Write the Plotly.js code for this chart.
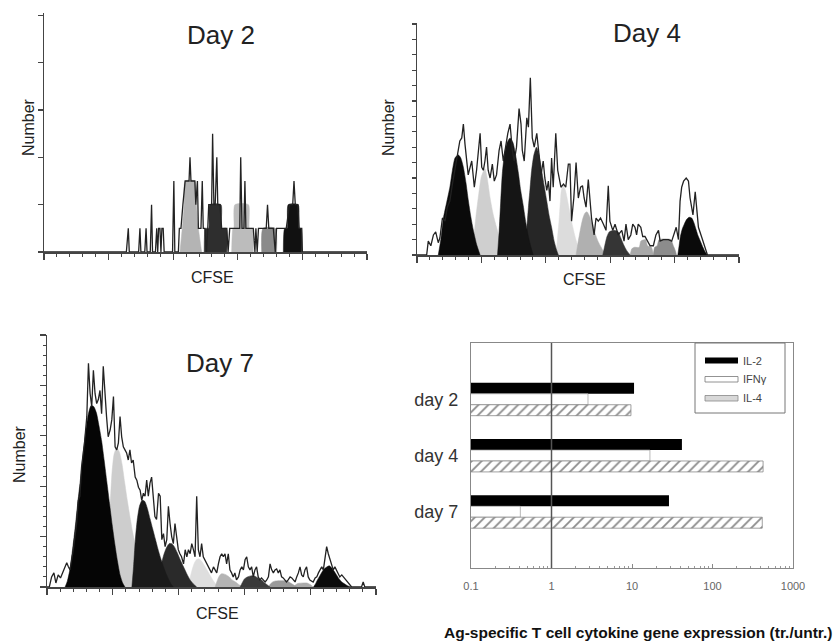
<!DOCTYPE html>
<html><head><meta charset="utf-8">
<script src="https://cdn.plot.ly/plotly-3.0.1.min.js"></script>
<style>html,body{margin:0;padding:0;background:#fff}#chart{width:836px;height:644px}</style>
</head><body><div id="chart"></div>
<script>
// ---------- Day 2 histogram (CFSE channel, cell count) ----------
const d2OutX = [0,255,261,264,293,297,300,312,316,319,329,333,336,345,349,352,355,359,362,365,369,372,398,402,405,416,419,424,430,437,449,452,455,467,470,475,478,486,490,493,498,503,507,510,519,522,526,530,535,538,545,550,560,566,570,575,581,590,600,606,609,613,619,622,625,640,648,653,656,660,664,669,674,688,692,696,710,716,720,738,741,750,760,770,774,778,786,790,798,800,1000];
const d2OutY = [0,0,1,0,0,1,0,0,1,0,0,2,0,0,1,0,1,1,0,1,1,0,0,3,0,0,1,1,2,3,3,4,3,3,2,3,1,1,3,1,1,0,1,2,2,5,2,2,4,2,2,1,1,1,0,1,1,1,1,1,4,1,1,3,1,1,1,0,1,0,1,1,1,1,2,1,1,0,1,1,1,1,2,2,3,2,2,1,1,0,0];
const d2PeakX = [[421,428,434,437,467,472,478,488],[496,500,510,513,548,550,564,566],[581,585,588,591,633,636,645,648],[674,678,716,720],[741,745,753,756,787,790,796,798]];
const d2PeakY = [[0,1,2,3,3,2,1,0],[0,1,1,2,2,1,1,0],[0,1,1,2,2,1,1,0],[0,1,1,0],[0,1,1,2,2,1,1,0]];

// ---------- Day 4 histogram ----------
const d4OutX = [0,30,35,43,51,58,66,71,79,87,94,102,110,118,126,133,139,144,149,154,159,165,170,178,185,196,201,206,211,216,221,227,234,240,247,255,261,268,275,282,289,296,302,309,317,323,327,333,341,346,352,358,364,372,379,385,392,397,403,408,413,418,423,431,437,441,447,455,462,470,475,480,487,494,501,508,514,519,525,532,537,542,550,556,563,570,579,587,594,599,608,615,625,636,643,649,656,664,670,677,682,687,695,701,708,724,734,742,750,755,765,781,791,798,805,812,817,822,828,836,843,848,857,864,869,874,885,895,902,1000];
const d4OutY = [0,0,0.9,0.6,1.3,1.5,0.8,1.1,2.4,2.2,3.1,3.5,4.6,5.5,6.5,7.4,7.6,8.5,7.2,6.1,5.2,5.7,6.1,4.4,5.5,7.9,5.7,5.5,6.1,7.0,5.5,5.0,5.9,4.8,5.2,6.8,7.4,6.1,7.0,7.9,8.5,6.8,6.1,7.0,9.5,8.5,6.8,6.1,8.9,8.3,11.5,7.6,7.0,7.9,6.5,5.2,6.1,5.0,4.2,4.8,3.5,6.3,4.4,7.9,5.5,5.0,4.4,4.6,4.4,5.9,5.9,2.2,3.7,6.0,3.7,4.4,4.5,3.7,3.1,4.9,3.3,2.4,1.3,2.4,2.2,2.4,2.0,1.6,4.5,2.2,1.6,2.0,1.3,1.6,0.9,2.0,1.0,1.3,2.0,1.8,1.3,2.0,1.8,1.2,1.2,0.6,0.6,1.3,1.6,0.9,1.0,1.0,0.9,1.3,1.8,1.0,3.5,4.4,4.8,5.0,4.8,3.7,2.6,4.1,3.1,1.8,1.1,0.4,0,0];
const d4PeakX = [
  [66,74,82,92,102,110,118,128,136,144,152,159,167,175,185,196],
  [170,176,183,192,200,211,218,227,237,247,258,268,279],
  [250,255,260,265,272,280,289,298,307,315,322,330,338,346,354,361],
  [333,340,346,351,356,363,371,379,387,395,403,410,418,426,434,439],
  [432,436,441,445,449,455,461,468,476,484,492,501,511],
  [494,500,507,514,521,528,536,545,553,562,572,580,589],
  [577,583,590,597,612,625,633,641,651,662],
  [662,667,675,690,695,710,716,728,734],
  [734,738,746,752,788,796,802,806],
  [810,814,818,824,830,837,845,853,860,866,872,880,888,895,902]];
const d4PeakY = [
  [0,1,2.4,3.4,4.4,5.5,6.3,6.5,6.3,5.7,4.7,3.6,2.5,1.6,0.7,0],
  [0,1,2.5,4,5.1,5.6,5.0,3.7,2.6,1.8,1.0,0.4,0],
  [0,1.5,3.5,5.3,6.6,7.3,7.6,7.3,6.4,5.3,4.2,3.2,2.1,1.2,0.5,0],
  [0,1.5,3.1,4.3,5.5,6.5,7.0,6.5,5.5,4.5,3.5,2.6,1.8,0.9,0.3,0],
  [0,1,2.2,3.4,4.3,4.5,4.2,3.5,2.6,1.8,1.1,0.5,0],
  [0,0.8,1.6,2.3,2.7,2.8,2.5,2.0,1.4,0.9,0.5,0.2,0],
  [0,0.6,1.2,1.5,1.6,1.5,1.1,0.7,0.3,0],
  [0,0.4,0.5,0.5,0.9,1.0,0.6,0.5,0],
  [0,0.5,0.6,1.0,1.0,0.6,0.3,0],
  [0,0.6,1.2,1.7,2.0,2.3,2.45,2.4,2.1,1.7,1.3,0.9,0.5,0.2,0]];

// ---------- Day 7 histogram ----------
const d7OutX = [0,7,14,21,27,34,41,50,60,65,70,80,90,95,100,105,114,121,126,131,136,141,146,151,156,161,166,171,176,181,186,192,197,202,207,212,217,222,227,232,237,242,247,252,257,262,268,273,278,283,288,293,298,303,308,313,318,323,328,333,339,344,349,354,359,364,369,374,379,384,389,394,399,404,409,415,420,425,430,435,440,445,450,455,460,465,470,475,480,485,490,495,500,506,511,516,521,526,531,536,541,546,551,556,561,566,571,576,582,587,592,597,602,607,612,617,622,627,632,637,642,647,652,658,663,668,673,678,683,688,693,698,703,708,713,718,723,728,733,739,744,749,754,759,764,769,774,779,784,789,794,799,809,815,820,825,830,835,840,845,850,855,860,865,870,875,880,885,890,896,901,906,911,916,921,926,956,961,966,1000];
const d7OutY = [0,0,10,14,4,12,9,16,24,20,17,37,63,86,90,119,143,169,222,192,179,215,192,182,186,195,172,219,189,169,149,156,166,189,139,136,143,169,149,139,136,133,126,136,123,126,109,106,99,96,86,93,90,106,90,103,109,86,70,67,93,90,47,53,40,47,80,63,50,43,63,50,37,33,30,23,37,30,37,33,43,37,30,90,37,30,43,30,27,23,20,17,14,20,17,14,23,30,33,30,33,23,33,17,14,10,14,7,10,17,20,17,27,30,20,17,20,10,17,20,10,7,9,7,5,7,10,23,17,14,17,18,14,17,10,9,7,5,7,10,9,7,5,10,14,20,12,10,17,20,10,7,5,9,10,14,17,20,17,27,40,33,27,23,17,20,17,14,10,12,10,7,5,4,2,0,0,5,0,0];
const d7PeakX = [
  [55,62,70,78,86,94,102,110,118,126,134,142,150,158,166,174,182,190,198,206,214,222,230,237],
  [180,186,192,198,204,212,220,228,236,244,252,260,268,276,284,292,300,308],
  [258,263,268,274,281,289,297,305,313,321,329,337,345,353,361,369,377,384],
  [333,340,347,355,363,371,379,387,396,405,415,425,435,445,455],
  [429,435,441,447,454,461,469,477,486,495,504,513,521],
  [511,516,522,529,537,545,554,563,573,585,597],
  [587,593,600,609,619,630,641,652,662,670,678],
  [673,679,686,695,730,740,750,759],
  [749,755,762,790,800,809],
  [810,816,822,829,836,843,851,858,865,872,880,888,896,905,915,926]];
const d7PeakY = [
  [0,6,18,38,60,85,108,133,155,172,180,179,173,160,145,125,104,83,62,43,26,12,4,0],
  [0,30,80,115,132,138,134,122,104,86,70,55,42,30,19,10,4,0],
  [0,20,45,66,80,86,85,78,68,58,48,38,29,21,14,8,3,0],
  [0,10,22,32,39,43,43,40,34,27,20,13,7,3,0],
  [0,9,17,23,27,28,26,22,17,12,7,3,0],
  [0,5,10,13,13,12,10,7,5,2,0],
  [0,4,8,10,11,11,9,7,4,2,0],
  [0,3,5,6,6,4,2,0],
  [0,2,3.5,4,2.5,0],
  [0,3,7,11,15,18,20,21,19,16,12,8,5,3,1,0]];

// ---------- Cytokine bar chart ----------
const days = ['day 2','day 4','day 7'];
const il2  = [10.6, 41.7, 28.8];
const ifng = [2.84, 16.7, 0.41];
const il4  = [9.7, 425, 415];
const xTickVals = [0.1, 1, 10, 100, 1000];
const xTickText = ['0.1','1','10','100','1000'];
const seriesNames = ['IL-2','IFN\u03b3','IL-4'];

// ---------- styles ----------
const W = 836, H = 644;
const px = v => v / W, py = v => 1 - v / H;
const FONT = 'Liberation Sans, Arial, sans-serif';
const d2Colors = ['#b4b4b4','#2e2e2e','#bcbcbc','#8a8a8a','#111111'];
const d4Colors = ['#0a0a0a','#cfcfcf','#151515','#262626','#dcdcdc','#b0b0b0','#353535','#a8a8a8','#8c8c8c','#0a0a0a'];
const d7Colors = ['#050505','#cdcdcd','#1a1a1a','#2a2a2a','#dedede','#b4b4b4','#3a3a3a','#9a9a9a','#aaaaaa','#0a0a0a'];
const lum = c => parseInt(c.slice(1,3),16) + parseInt(c.slice(3,5),16) + parseInt(c.slice(5,7),16);

const traces = [];
function addPanel(peakX, peakY, colors, outX, outY, xa, ya) {
  // lighter generations underneath, darker ones on top
  const order = colors.map((c, i) => i).sort((a, b) => lum(colors[b]) - lum(colors[a]));
  order.forEach(i => {
    traces.push({type:'scatter', mode:'lines', x: peakX[i], y: peakY[i], xaxis: xa, yaxis: ya,
      fill:'tozeroy', fillcolor: colors[i], line:{color: colors[i], width:0.5, shape:'spline', smoothing:0.6},
      showlegend:false, hoverinfo:'skip'});
  });
  traces.push({type:'scatter', mode:'lines', x: outX, y: outY, xaxis: xa, yaxis: ya,
    line:{color:'#222', width:1.3}, showlegend:false, hoverinfo:'skip'});
}
addPanel(d2PeakX, d2PeakY, d2Colors, d2OutX, d2OutY, 'x', 'y');
addPanel(d4PeakX, d4PeakY, d4Colors, d4OutX, d4OutY, 'x2', 'y2');
addPanel(d7PeakX, d7PeakY, d7Colors, d7OutX, d7OutY, 'x3', 'y3');

traces.push({type:'bar', orientation:'h', name: seriesNames[0], x: il2, y: days, xaxis:'x4', yaxis:'y4',
  marker:{color:'#000', line:{color:'#000', width:0}}, showlegend:false});
traces.push({type:'bar', orientation:'h', name: seriesNames[1], x: ifng, y: days, xaxis:'x4', yaxis:'y4',
  marker:{color:'#fff', line:{color:'#999', width:0.7}}, showlegend:false});
traces.push({type:'bar', orientation:'h', name: seriesNames[2], x: il4, y: days, xaxis:'x4', yaxis:'y4',
  marker:{color:'#fff', pattern:{shape:'/', fgcolor:'#8a8a8a', bgcolor:'#fff', size:7, solidity:0.25},
  line:{color:'#888', width:0.8}}, showlegend:false});

const histX = (dom) => ({domain: dom, range:[0,1000], showgrid:false, zeroline:false, showline:true,
  linecolor:'#444', linewidth:1.5, ticks:'outside', ticklen:6, tickwidth:1.2, tickcolor:'#444',
  dtick:200, tick0:0, showticklabels:false, fixedrange:true,
  minor:{ticks:'outside', ticklen:3, tickwidth:1, tickcolor:'#444', dtick:40, showgrid:false}});
const histY = (dom, top, dt, len, minor) => {
  const o = {domain: dom, range:[0, top], showgrid:false, zeroline:false, showline:true,
    linecolor:'#444', linewidth:1.5, ticks:'outside', ticklen:len, tickwidth:1.2, tickcolor:'#444',
    dtick: dt, tick0:0, showticklabels:false, fixedrange:true};
  if (minor) o.minor = {ticks:'outside', ticklen:3, tickwidth:1, tickcolor:'#444', dtick:minor, showgrid:false};
  return o;
};

const ann = [];
const txt = (text, x, y, size, extra) => ann.push(Object.assign({text, xref:'paper', yref:'paper',
  x: px(x), y: py(y), xanchor:'center', yanchor:'middle', showarrow:false,
  font:{size, color:'#222', family: FONT}}, extra || {}));
txt('Day 2', 221, 35, 26);
txt('Day 4', 647, 33, 26);
txt('Day 7', 220, 363, 26);
txt('CFSE', 212.5, 277, 16);
txt('CFSE', 584.5, 280, 16);
txt('CFSE', 217.5, 613, 16);
txt('Number', 29, 127, 16, {textangle:-90});
txt('Number', 389, 127, 16, {textangle:-90});
txt('Number', 19, 454, 16, {textangle:-90});
txt('<b>Ag-specific T cell cytokine gene expression (tr./untr.)</b>', 638, 632, 15.5, {font:{size:15.5, color:'#111', family: FONT}});
// legend
const legY = [361, 379, 398];
seriesNames.forEach((n, i) => txt(n, 741, legY[i], 11, {xanchor:'left', font:{size:11, color:'#444', family: FONT}}));

const shapes = [
  {type:'line', xref:'x4', yref:'y4 domain', x0:1, x1:1, y0:0, y1:1, line:{color:'#555', width:1.5}},
  {type:'rect', xref:'paper', yref:'paper', x0:px(695), x1:px(785), y0:py(413), y1:py(343), line:{color:'#777', width:1}, fillcolor:'#fff'},
  {type:'rect', xref:'paper', yref:'paper', x0:px(705), x1:px(738), y0:py(363.5), y1:py(357.5), line:{color:'#000', width:0}, fillcolor:'#000'},
  {type:'rect', xref:'paper', yref:'paper', x0:px(705), x1:px(738), y0:py(382), y1:py(376.5), line:{color:'#777', width:0.8}, fillcolor:'#fff'},
  {type:'rect', xref:'paper', yref:'paper', x0:px(705), x1:px(738), y0:py(401), y1:py(395.5), line:{color:'#888', width:0.8}, fillcolor:'#d8d8d8'}
];

const layout = {
  width: W, height: H, margin:{l:0,r:0,t:0,b:0}, paper_bgcolor:'#fff', plot_bgcolor:'rgba(0,0,0,0)',
  font:{family: FONT, color:'#222'},
  showlegend:false, barmode:'group', bargap:0.416, bargroupgap:0,
  xaxis: histX([px(44), px(367)]), yaxis: Object.assign(histY([py(252), py(13)], 10.1, 2, 5), {anchor:'x'}),
  xaxis2: Object.assign(histX([px(417), px(739)]), {anchor:'y2'}), yaxis2: Object.assign(histY([py(255), py(23)], 15.06, 1, 4), {anchor:'x2'}),
  xaxis3: Object.assign(histX([px(47), px(376)]), {anchor:'y3'}), yaxis3: Object.assign(histY([py(587), py(335)], 250, 50, 6, 10), {anchor:'x3'}),
  xaxis4: {domain:[px(471), px(793)], anchor:'y4', type:'log', range:[-1,3], tickmode:'array', tickvals: xTickVals, ticktext: xTickText,
    ticks:'inside', ticklen:4, tickcolor:'#888', showline:true, mirror:true, linecolor:'#888', linewidth:1.2,
    showgrid:false, zeroline:false, tickfont:{size:11, color:'#666'}, ticklabelstandoff:8,
    minor:{ticks:'inside', ticklen:2, tickcolor:'#999', dtick:'D1', showgrid:false}},
  yaxis4: {domain:[py(568), py(343)], anchor:'x4', type:'category', categoryarray: days, range:[3,-1], autorange:false,
    showline:true, mirror:true, linecolor:'#888', linewidth:1.2, ticks:'', showgrid:false, zeroline:false,
    tickfont:{size:18, color:'#333'}, ticklabelstandoff:8},
  annotations: ann, shapes: shapes
};
Plotly.newPlot('chart', traces, layout, {staticPlot:true, displayModeBar:false});
</script></body></html>
